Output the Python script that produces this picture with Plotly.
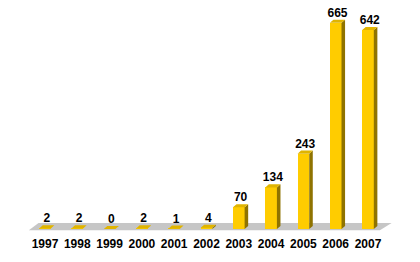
import plotly.graph_objects as go

years = ["1997", "1998", "1999", "2000", "2001", "2002", "2003", "2004", "2005", "2006", "2007"]
values = [2, 2, 0, 2, 1, 4, 70, 134, 243, 665, 642]

# style parameters (3D look)
BAR_W = 0.36
DX = 0.11     # depth offset in x (category units)
DY = 10       # depth offset in y (value units)
FRONT = "#FFCC00"
SIDE = "#8F7300"
TOP = "#E0B400"
FLOOR = "#C6C6C6"
FONT = dict(family="Liberation Sans, Arial", size=12, color="black", weight="bold")

n = len(years)
xs = list(range(n))

fig = go.Figure()

# front faces
fig.add_trace(go.Bar(x=xs, y=values, width=BAR_W, marker=dict(color=FRONT, line=dict(width=0)),
                     hoverinfo="skip", showlegend=False))

# side faces
sx, sy = [], []
for x, v in zip(xs, values):
    r = x + BAR_W / 2
    sx += [r, r + DX, r + DX, r, r, None]
    sy += [0, DY, v + DY, v, 0, None]
fig.add_trace(go.Scatter(x=sx, y=sy, fill="toself", fillcolor=SIDE, mode="lines",
                         line=dict(width=0, color=SIDE), hoverinfo="skip", showlegend=False))

# top faces
tx, ty = [], []
for x, v in zip(xs, values):
    l, r = x - BAR_W / 2, x + BAR_W / 2
    tx += [l, l + DX, r + DX, r, l, None]
    ty += [v, v + DY, v + DY, v, v, None]
fig.add_trace(go.Scatter(x=tx, y=ty, fill="toself", fillcolor=TOP, mode="lines",
                         line=dict(width=0, color=TOP), hoverinfo="skip", showlegend=False))

# value labels
fig.add_trace(go.Scatter(x=[x + DX / 2 for x in xs], y=[v + DY for v in values],
                         mode="text", text=[str(v) for v in values], textposition="top center",
                         textfont=FONT, cliponaxis=False, hoverinfo="skip", showlegend=False))

# year labels
fig.add_trace(go.Scatter(x=xs, y=[-52] * n, mode="text", text=years, textposition="middle center",
                         textfont=FONT, cliponaxis=False, hoverinfo="skip", showlegend=False))

# floor
fl, fr = -0.5, (n - 1) + 0.37
fig.add_shape(type="path", xref="x", yref="y", layer="below",
              path=f"M {fl},-4 L {fr},-4 L {fr + 0.36},19 L {fl + 0.3},19 Z",
              fillcolor=FLOOR, line=dict(width=0))

fig.update_layout(
    width=420, height=262,
    margin=dict(l=0, r=0, t=0, b=0),
    paper_bgcolor="white", plot_bgcolor="white",
    xaxis=dict(range=[-45 / 32.3, (420 - 45) / 32.3], visible=False, fixedrange=True),
    yaxis=dict(range=[(229 - 262) / 0.31, 229 / 0.31], visible=False, fixedrange=True),
    bargap=0,
)

fig.write_html("out.html")
